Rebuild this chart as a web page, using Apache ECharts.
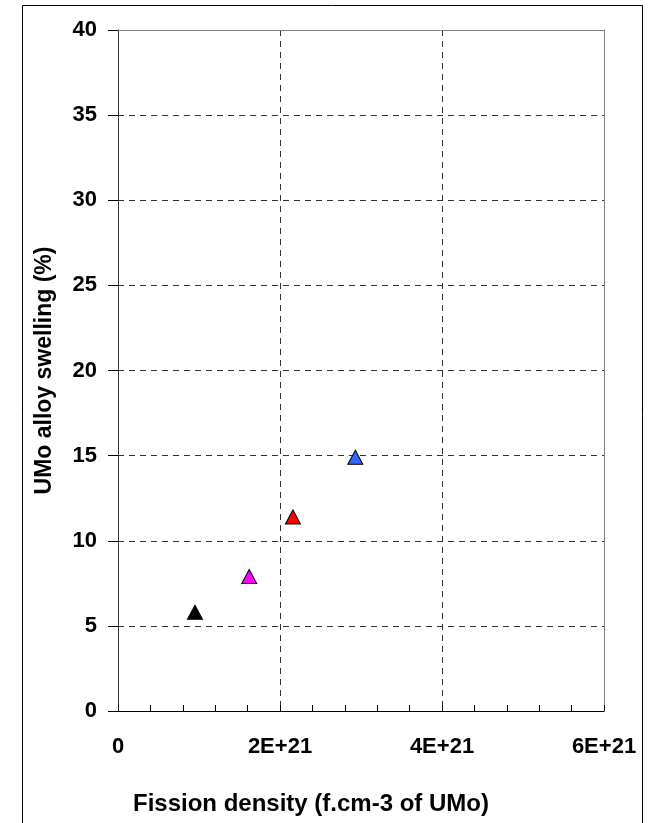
<!DOCTYPE html>
<html><head><meta charset="utf-8">
<script src="https://cdn.jsdelivr.net/npm/echarts@6/dist/echarts.min.js"></script>
<style>html,body{margin:0;padding:0;background:#fff}#c{width:651px;height:823px}</style>
</head><body><div id="c"></div>
<script>
const fissionDensity = [0.95e21, 1.62e21, 2.16e21, 2.93e21];
const swelling = [5.8, 7.9, 11.4, 14.9];
const pointColors = ['#000000', '#FF00FF', '#FF0000', '#3366FF'];
const xTitle = 'Fission density (f.cm-3 of UMo)';
const yTitle = 'UMo alloy swelling (%)';

const chart = echarts.init(document.getElementById('c'), null, {renderer: 'canvas'});
const font = 'Liberation Sans, Arial, sans-serif';
const grid = {color: '#333', type: [6, 5], width: 1};
chart.setOption({
  animation: false,
  backgroundColor: '#fff',
  graphic: [{type: 'rect', shape: {x: 22.5, y: 5.5, width: 620, height: 830}, style: {fill: 'none', stroke: '#000', lineWidth: 1}}],
  grid: {left: 118, top: 30, width: 486, height: 681},
  xAxis: [{
    type: 'value', min: 0, max: 6e21, interval: 2e21,
    name: xTitle, nameLocation: 'middle', nameGap: 81,
    nameTextStyle: {fontFamily: font, fontWeight: 'bold', fontSize: 24, color: '#000', padding: [0, 100, 0, 0]},
    axisLine: {show: true, onZero: false, lineStyle: {color: '#000', width: 1}},
    axisTick: {show: true, inside: true, length: 6, lineStyle: {color: '#000'}},
    minorTick: {show: true, splitNumber: 5, length: 6, lineStyle: {color: '#000'}},
    axisLabel: {margin: 25, fontFamily: font, fontWeight: 'bold', fontSize: 22, color: '#000',
      formatter: v => v === 0 ? '0' : (v / 1e21) + 'E+21'},
    splitLine: {show: true, lineStyle: grid}
  }, {
    type: 'value', min: 0, max: 6e21, position: 'top',
    axisLine: {show: true, onZero: false, lineStyle: {color: '#808080', width: 1}},
    axisTick: {show: false}, axisLabel: {show: false}, splitLine: {show: false}
  }],
  yAxis: [{
    type: 'value', min: 0, max: 40, interval: 5,
    name: yTitle, nameLocation: 'middle', nameGap: 62, nameRotate: 90,
    nameTextStyle: {fontFamily: font, fontWeight: 'bold', fontSize: 23, color: '#000'},
    axisLine: {show: true, onZero: false, lineStyle: {color: '#333', width: 1}},
    axisTick: {show: true, inside: false, length: 10, lineStyle: {color: '#000'}},
    axisLabel: {margin: 21, fontFamily: font, fontWeight: 'bold', fontSize: 22, color: '#000'},
    splitLine: {show: true, lineStyle: grid}
  }, {
    type: 'value', min: 0, max: 40, position: 'right',
    axisLine: {show: true, onZero: false, lineStyle: {color: '#808080', width: 1}},
    axisTick: {show: false}, axisLabel: {show: false}, splitLine: {show: false}
  }],
  series: [{
    type: 'scatter', symbol: 'triangle', symbolSize: [15, 14],
    data: fissionDensity.map((x, i) => ({value: [x, swelling[i]], itemStyle: {color: pointColors[i], borderColor: '#000', borderWidth: 1, opacity: 1}}))
  }]
});
</script></body></html>
